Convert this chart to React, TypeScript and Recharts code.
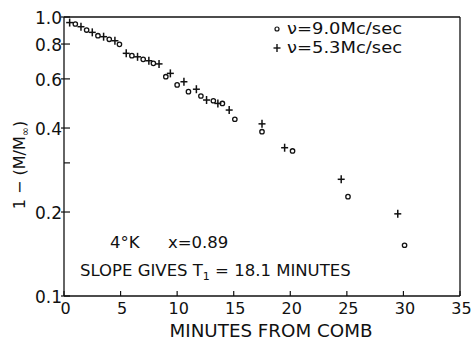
import React from 'react';
import { ScatterChart, Scatter, XAxis, YAxis, ReferenceLine } from 'recharts';

const plusTimes = [0.5, 1.5, 2.5, 3.5, 4.5, 5.5, 6.5, 7.5, 8.4, 9.4, 10.6, 11.7, 12.6, 13.6, 14.6, 17.5, 19.5, 24.5, 29.5];
const plusValues = [0.955, 0.923, 0.881, 0.85, 0.822, 0.741, 0.72, 0.697, 0.679, 0.628, 0.586, 0.551, 0.504, 0.49, 0.464, 0.414, 0.34, 0.262, 0.197];
const circleTimes = [1, 2, 3, 4, 4.9, 6, 7, 7.9, 9, 10, 11, 12.1, 13.2, 14, 15.1, 17.5, 20.2, 25.1, 30.1];
const circleValues = [0.944, 0.898, 0.857, 0.832, 0.798, 0.727, 0.705, 0.682, 0.611, 0.571, 0.54, 0.521, 0.501, 0.49, 0.43, 0.388, 0.331, 0.227, 0.152];
const xTicks = [0, 5, 10, 15, 20, 25, 30, 35];
const yTicks = [0.1, 0.2, 0.3, 0.4, 0.5, 0.6, 0.7, 0.8, 0.9, 1.0];
const yLabeled = [0.1, 0.2, 0.4, 0.6, 0.8, 1.0];

const FONT = '"DejaVu Sans", sans-serif';

const plusData = plusTimes.map((t, i) => ({ t, v: plusValues[i] }));
const circleData = circleTimes.map((t, i) => ({ t, v: circleValues[i] }));

const PlusShape = (props: any) => {
  const { cx, cy } = props;
  return (
    <g stroke="#111" strokeWidth={1.5} fill="none">
      <line x1={cx - 3.5} y1={cy} x2={cx + 3.5} y2={cy} />
      <line x1={cx} y1={cy - 4} x2={cx} y2={cy + 4} />
    </g>
  );
};

const CircleShape = (props: any) => {
  const { cx, cy } = props;
  return <circle cx={cx} cy={cy} r={2.2} stroke="#111" strokeWidth={1.3} fill="white" />;
};

const XTick = (props: any) => {
  const { x, y, payload } = props;
  return (
    <g>
      <line x1={x} y1={y} x2={x} y2={y - 5} stroke="#111" strokeWidth={1.2} />
      <text x={x + 1.5} y={y + 18} textAnchor="middle" fontFamily={FONT} fontSize={16} fill="#111">
        {payload.value}
      </text>
    </g>
  );
};

const YTick = (props: any) => {
  const { x, y, payload } = props;
  const labeled = yLabeled.some((v) => Math.abs(v - payload.value) < 1e-6);
  return (
    <g>
      <line x1={labeled ? x - 3 : x} y1={y} x2={x + 6} y2={y} stroke="#111" strokeWidth={1.2} />
      {labeled && (
        <text x={x - 2} y={y + 7} textAnchor="end" fontFamily={FONT} fontSize={17} fill="#111">
          {Number(payload.value).toFixed(1)}
        </text>
      )}
    </g>
  );
};

export default function App() {
  return (
    <div style={{ position: 'absolute', left: 0, top: 0, width: 471, height: 340, background: 'white' }}>
      <ScatterChart width={471} height={340} margin={{ top: 17, right: 11, bottom: 0, left: 0 }}>
        <XAxis
          type="number"
          dataKey="t"
          domain={[0, 35]}
          ticks={xTicks}
          height={44}
          tickSize={0}
          tickMargin={0}
          tick={<XTick />}
          axisLine={{ stroke: '#111', strokeWidth: 1.3 }}
          tickLine={false}
          allowDataOverflow
        />
        <YAxis
          type="number"
          dataKey="v"
          scale="log"
          domain={[0.1, 1]}
          ticks={yTicks}
          width={64}
          tickSize={0}
          tickMargin={0}
          tick={<YTick />}
          axisLine={{ stroke: '#111', strokeWidth: 1.3 }}
          tickLine={false}
          allowDataOverflow
        />
        <ReferenceLine y={1} stroke="#111" strokeWidth={1.3} />
        <ReferenceLine x={35} stroke="#111" strokeWidth={1.3} />
        <Scatter data={circleData} shape={<CircleShape />} isAnimationActive={false} />
        <Scatter data={plusData} shape={<PlusShape />} isAnimationActive={false} />
      </ScatterChart>
      <svg width={471} height={340} style={{ position: 'absolute', left: 0, top: 0, pointerEvents: 'none' }}>
        <g fontFamily={FONT} fill="#111">
          <circle cx={277} cy={29} r={2} stroke="#111" strokeWidth={1.2} fill="white" />
          <text x={287} y={34} fontSize={15} textLength={115} lengthAdjust="spacingAndGlyphs">ν=9.0Mc/sec</text>
          <g stroke="#111" strokeWidth={1.4}>
            <line x1={273.5} y1={48} x2={280.5} y2={48} />
            <line x1={277} y1={44} x2={277} y2={52} />
          </g>
          <text x={287} y={53} fontSize={15} textLength={115} lengthAdjust="spacingAndGlyphs">ν=5.3Mc/sec</text>

          <text x={110} y={248} fontSize={16.5}>4°K</text>
          <text x={168} y={248} fontSize={16.5}>x=0.89</text>
          <text x={80} y={276} fontSize={16.5}>
            SLOPE GIVES T<tspan fontSize={11} dy={4}>1</tspan>
            <tspan dy={-4}> = 18.1 MINUTES</tspan>
          </text>

          <text x={271} y={337} fontSize={17} textAnchor="middle" textLength={203} lengthAdjust="spacingAndGlyphs">
            MINUTES FROM COMB
          </text>

          <text x={25} y={165} fontSize={16} textAnchor="middle" transform="rotate(-90 25 165)">
            1 − (M/M<tspan fontSize={11} dy={4}>∞</tspan><tspan dy={-4}>)</tspan>
          </text>
        </g>
      </svg>
    </div>
  );
}
